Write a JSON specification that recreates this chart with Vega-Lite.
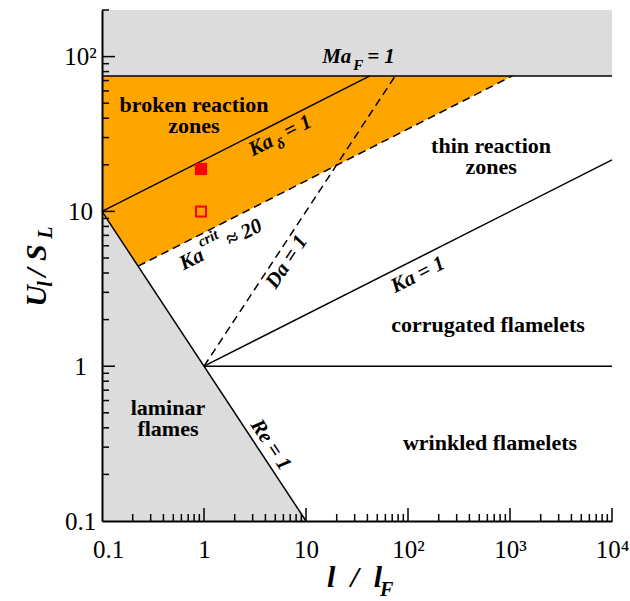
{
"$schema":"https://vega.github.io/schema/vega-lite/v6.json",
"width":510,"height":511,
"autosize":{"type":"none"},
"padding":{"left":102,"top":10,"right":18,"bottom":80},
"background":"white",
"config":{"view":{"stroke":null}},
"datasets":{
 "topband":[{"x":0.1,"y":75,"y2":200},{"x":10000,"y":75,"y2":200}],
 "laminar":[{"x":0.1,"y":10,"y2":0.1},{"x":10,"y":0.1,"y2":0.1}],
 "broken":[{"x":0.1,"y":10,"y2":75},{"x":0.226,"y":4.43,"y2":75},{"x":1054,"y":75,"y2":75}],
 "solid":[
  {"id":"Ma","x":0.1,"y":75},{"id":"Ma","x":10000,"y":75},
  {"id":"Re","x":0.1,"y":10},{"id":"Re","x":10,"y":0.1},
  {"id":"Kad","x":0.1,"y":10},{"id":"Kad","x":42.3,"y":75},
  {"id":"Ka","x":1,"y":1},{"id":"Ka","x":10000,"y":21.5},
  {"id":"one","x":1,"y":1},{"id":"one","x":10000,"y":1}
 ],
 "dashed":[
  {"id":"Kacrit","x":0.226,"y":4.43},{"id":"Kacrit","x":1054,"y":75},
  {"id":"Da","x":1,"y":1},{"id":"Da","x":75,"y":75}
 ],
 "xmajor":[{"x":1,"y":0.1},{"x":10,"y":0.1},{"x":100,"y":0.1},{"x":1000,"y":0.1},{"x":10000,"y":0.1}],
 "xminor":[
  {"x":0.2,"y":0.1},{"x":0.3,"y":0.1},{"x":0.4,"y":0.1},{"x":0.5,"y":0.1},{"x":0.6,"y":0.1},{"x":0.7,"y":0.1},{"x":0.8,"y":0.1},{"x":0.9,"y":0.1},
  {"x":2,"y":0.1},{"x":3,"y":0.1},{"x":4,"y":0.1},{"x":5,"y":0.1},{"x":6,"y":0.1},{"x":7,"y":0.1},{"x":8,"y":0.1},{"x":9,"y":0.1},
  {"x":20,"y":0.1},{"x":30,"y":0.1},{"x":40,"y":0.1},{"x":50,"y":0.1},{"x":60,"y":0.1},{"x":70,"y":0.1},{"x":80,"y":0.1},{"x":90,"y":0.1},
  {"x":200,"y":0.1},{"x":300,"y":0.1},{"x":400,"y":0.1},{"x":500,"y":0.1},{"x":600,"y":0.1},{"x":700,"y":0.1},{"x":800,"y":0.1},{"x":900,"y":0.1},
  {"x":2000,"y":0.1},{"x":3000,"y":0.1},{"x":4000,"y":0.1},{"x":5000,"y":0.1},{"x":6000,"y":0.1},{"x":7000,"y":0.1},{"x":8000,"y":0.1},{"x":9000,"y":0.1}
 ],
 "ymajor":[{"x":0.1,"y":1},{"x":0.1,"y":10},{"x":0.1,"y":100}],
 "yminor":[
  {"x":0.1,"y":0.2},{"x":0.1,"y":0.3},{"x":0.1,"y":0.4},{"x":0.1,"y":0.5},{"x":0.1,"y":0.6},{"x":0.1,"y":0.7},{"x":0.1,"y":0.8},{"x":0.1,"y":0.9},
  {"x":0.1,"y":2},{"x":0.1,"y":3},{"x":0.1,"y":4},{"x":0.1,"y":5},{"x":0.1,"y":6},{"x":0.1,"y":7},{"x":0.1,"y":8},{"x":0.1,"y":9},
  {"x":0.1,"y":20},{"x":0.1,"y":30},{"x":0.1,"y":40},{"x":0.1,"y":50},{"x":0.1,"y":60},{"x":0.1,"y":70},{"x":0.1,"y":80},{"x":0.1,"y":90},
  {"x":0.1,"y":200}
 ],
 "filledpt":[{"x":0.935,"y":18.8}],
 "openpt":[{"x":0.935,"y":10}],
 "regions":[
  {"x":0.798,"y":43.9,"t":"broken reaction\nzones"},
  {"x":652,"y":23.8,"t":"thin reaction\nzones"},
  {"x":608,"y":1.66,"t":"corrugated flamelets"},
  {"x":637,"y":0.288,"t":"wrinkled flamelets"},
  {"x":0.443,"y":0.484,"t":"laminar\nflames"}
 ],
 "maf":[{"x":14.4,"y":90.9,"a":"Ma","b":"F","c":"= 1"}],
 "kad":[{"x":3.0,"y":22.6,"a":"Ka","b":"δ","c":"= 1"}],
 "kacrit":[{"x":0.63,"y":4.15,"a":"Ka","b":"crit","c":"≈ 20"}],
 "ka1":[{"x":125.3,"y":3.88,"t":"Ka = 1"}],
 "da1":[{"x":6.51,"y":4.71,"t":"Da = 1"}],
 "re1":[{"x":4.49,"y":0.31,"t":"Re = 1"}],
 "xtitle":[{"x":16.1,"y":0.0375,"a":"l\u00a0 /\u00a0 l","b":"F"}],
 "ytitle":[{"x":0.0283,"y":2.42,"a":"U","b":"l","c":"/ S","d":"L"}]
},
"encoding":{
 "x":{"field":"x","type":"quantitative",
  "scale":{"type":"log","domain":[0.1,10000],"nice":false},
  "axis":{"title":null,"grid":false,"zindex":1,"ticks":false,
   "values":[0.1,1,10,100,1000,10000],
   "labelExpr":"datum.value == 0.1 ? '0.1' : datum.value == 1 ? '1' : datum.value == 10 ? '10' : datum.value == 100 ? '10²' : datum.value == 1000 ? '10³' : datum.value == 10000 ? '10⁴' : ''",
   "labelFont":"Liberation Serif","labelFontSize":25,"labelColor":"black",
   "labelFlush":false,"labelOverlap":false,"labelPadding":16,
   "labelOffset":{"condition":{"test":"datum.value == 0.1","value":6},"value":0},
   "domainColor":"black","domainWidth":2}},
 "y":{"field":"y","type":"quantitative",
  "scale":{"type":"log","domain":[0.1,200],"nice":false},
  "axis":{"title":null,"grid":false,"zindex":1,"ticks":false,
   "values":[0.1,1,10,100],
   "labelExpr":"datum.value == 0.1 ? '0.1' : datum.value == 1 ? '1' : datum.value == 10 ? '10' : datum.value == 100 ? '10²' : ''",
   "labelFont":"Liberation Serif","labelFontSize":25,"labelColor":"black",
   "labelFlush":false,"labelOverlap":false,"labelPadding":22,"labelAlign":"center","labelBaseline":"middle",
   "domainColor":"black","domainWidth":2}}
},
"layer":[
 {"data":{"name":"topband"},"mark":{"type":"area","color":"#dcdcdc"},"encoding":{"y2":{"field":"y2"}}},
 {"data":{"name":"laminar"},"mark":{"type":"area","color":"#dcdcdc"},"encoding":{"y2":{"field":"y2"}}},
 {"data":{"name":"broken"},"mark":{"type":"area","color":"#ffa500"},"encoding":{"y2":{"field":"y2"}}},
 {"data":{"name":"solid"},"mark":{"type":"line","color":"black","strokeWidth":1.5},"encoding":{"detail":{"field":"id"}}},
 {"data":{"name":"dashed"},"mark":{"type":"line","color":"black","strokeWidth":1.5,"strokeDash":[8,5]},"encoding":{"detail":{"field":"id"}}},
 {"data":{"name":"xmajor"},"mark":{"type":"rule","color":"black","strokeWidth":1.5,"opacity":1},"encoding":{"y2":{"datum":0.1213}}},
 {"data":{"name":"xminor"},"mark":{"type":"rule","color":"black","strokeWidth":1.5,"opacity":1},"encoding":{"y2":{"datum":0.111}}},
 {"data":{"name":"ymajor"},"mark":{"type":"rule","color":"black","strokeWidth":1.5,"opacity":1},"encoding":{"x2":{"datum":0.1341}}},
 {"data":{"name":"yminor"},"mark":{"type":"rule","color":"black","strokeWidth":1.5,"opacity":1},"encoding":{"x2":{"datum":0.1171}}},
 {"data":{"name":"filledpt"},"mark":{"type":"point","shape":"square","filled":true,"color":"#ff0000","opacity":1,"size":150}},
 {"data":{"name":"openpt"},"mark":{"type":"point","shape":"square","filled":false,"color":"#ff0000","opacity":1,"strokeWidth":2,"size":100}},
 {"data":{"name":"regions"},"mark":{"type":"text","font":"Liberation Serif","fontWeight":"bold","fontSize":22,"align":"center","baseline":"alphabetic","lineBreak":"\n","lineHeight":21,"color":"black"},"encoding":{"text":{"field":"t"}}},
 {"data":{"name":"maf"},"mark":{"type":"text","font":"Liberation Serif","fontWeight":"bold","fontStyle":"italic","fontSize":21,"align":"left","baseline":"alphabetic","color":"black"},"encoding":{"text":{"field":"a"}}},
 {"data":{"name":"maf"},"mark":{"type":"text","font":"Liberation Serif","fontWeight":"bold","fontStyle":"italic","fontSize":15,"align":"left","baseline":"alphabetic","dx":31,"dy":7,"color":"black"},"encoding":{"text":{"field":"b"}}},
 {"data":{"name":"maf"},"mark":{"type":"text","font":"Liberation Serif","fontWeight":"bold","fontStyle":"italic","fontSize":21,"align":"left","baseline":"alphabetic","dx":45,"color":"black"},"encoding":{"text":{"field":"c"}}},
 {"data":{"name":"kad"},"mark":{"type":"text","font":"Liberation Serif","fontWeight":"bold","fontStyle":"italic","fontSize":21,"align":"left","baseline":"alphabetic","angle":333.2,"color":"black"},"encoding":{"text":{"field":"a"}}},
 {"data":{"name":"kad"},"mark":{"type":"text","font":"Liberation Serif","fontWeight":"bold","fontStyle":"italic","fontSize":15,"align":"left","baseline":"alphabetic","angle":333.2,"dx":27,"dy":6,"color":"black"},"encoding":{"text":{"field":"b"}}},
 {"data":{"name":"kad"},"mark":{"type":"text","font":"Liberation Serif","fontWeight":"bold","fontStyle":"italic","fontSize":21,"align":"left","baseline":"alphabetic","angle":333.2,"dx":40,"color":"black"},"encoding":{"text":{"field":"c"}}},
 {"data":{"name":"kacrit"},"mark":{"type":"text","font":"Liberation Serif","fontWeight":"bold","fontStyle":"italic","fontSize":21,"align":"left","baseline":"alphabetic","angle":333.2,"color":"black"},"encoding":{"text":{"field":"a"}}},
 {"data":{"name":"kacrit"},"mark":{"type":"text","font":"Liberation Serif","fontWeight":"bold","fontStyle":"italic","fontSize":15,"align":"left","baseline":"alphabetic","angle":333.2,"dx":26,"dy":-13,"color":"black"},"encoding":{"text":{"field":"b"}}},
 {"data":{"name":"kacrit"},"mark":{"type":"text","font":"Liberation Serif","fontWeight":"bold","fontStyle":"italic","fontSize":21,"align":"left","baseline":"alphabetic","angle":333.2,"dx":52,"color":"black"},"encoding":{"text":{"field":"c"}}},
 {"data":{"name":"ka1"},"mark":{"type":"text","font":"Liberation Serif","fontWeight":"bold","fontStyle":"italic","fontSize":21,"align":"center","baseline":"middle","angle":333.2,"color":"black"},"encoding":{"text":{"field":"t"}}},
 {"data":{"name":"da1"},"mark":{"type":"text","font":"Liberation Serif","fontWeight":"bold","fontStyle":"italic","fontSize":21,"align":"center","baseline":"middle","angle":303.4,"color":"black"},"encoding":{"text":{"field":"t"}}},
 {"data":{"name":"re1"},"mark":{"type":"text","font":"Liberation Serif","fontWeight":"bold","fontStyle":"italic","fontSize":21,"align":"center","baseline":"middle","angle":56.6,"color":"black"},"encoding":{"text":{"field":"t"}}},
 {"data":{"name":"xtitle"},"mark":{"type":"text","font":"Liberation Serif","fontWeight":"bold","fontStyle":"italic","fontSize":30,"align":"left","baseline":"alphabetic","color":"black"},"encoding":{"text":{"field":"a"}}},
 {"data":{"name":"xtitle"},"mark":{"type":"text","font":"Liberation Serif","fontWeight":"bold","fontStyle":"italic","fontSize":20,"align":"left","baseline":"alphabetic","dx":53,"dy":9,"color":"black"},"encoding":{"text":{"field":"b"}}},
 {"data":{"name":"ytitle"},"mark":{"type":"text","font":"Liberation Serif","fontWeight":"bold","fontStyle":"italic","fontSize":30,"align":"left","baseline":"alphabetic","angle":270,"color":"black"},"encoding":{"text":{"field":"a"}}},
 {"data":{"name":"ytitle"},"mark":{"type":"text","font":"Liberation Serif","fontWeight":"bold","fontStyle":"italic","fontSize":20,"align":"left","baseline":"alphabetic","angle":270,"dx":20,"dy":6,"color":"black"},"encoding":{"text":{"field":"b"}}},
 {"data":{"name":"ytitle"},"mark":{"type":"text","font":"Liberation Serif","fontWeight":"bold","fontStyle":"italic","fontSize":30,"align":"left","baseline":"alphabetic","angle":270,"dx":30,"color":"black"},"encoding":{"text":{"field":"c"}}},
 {"data":{"name":"ytitle"},"mark":{"type":"text","font":"Liberation Serif","fontWeight":"bold","fontStyle":"italic","fontSize":20,"align":"left","baseline":"alphabetic","angle":270,"dx":68,"dy":6,"color":"black"},"encoding":{"text":{"field":"d"}}}
]
}
